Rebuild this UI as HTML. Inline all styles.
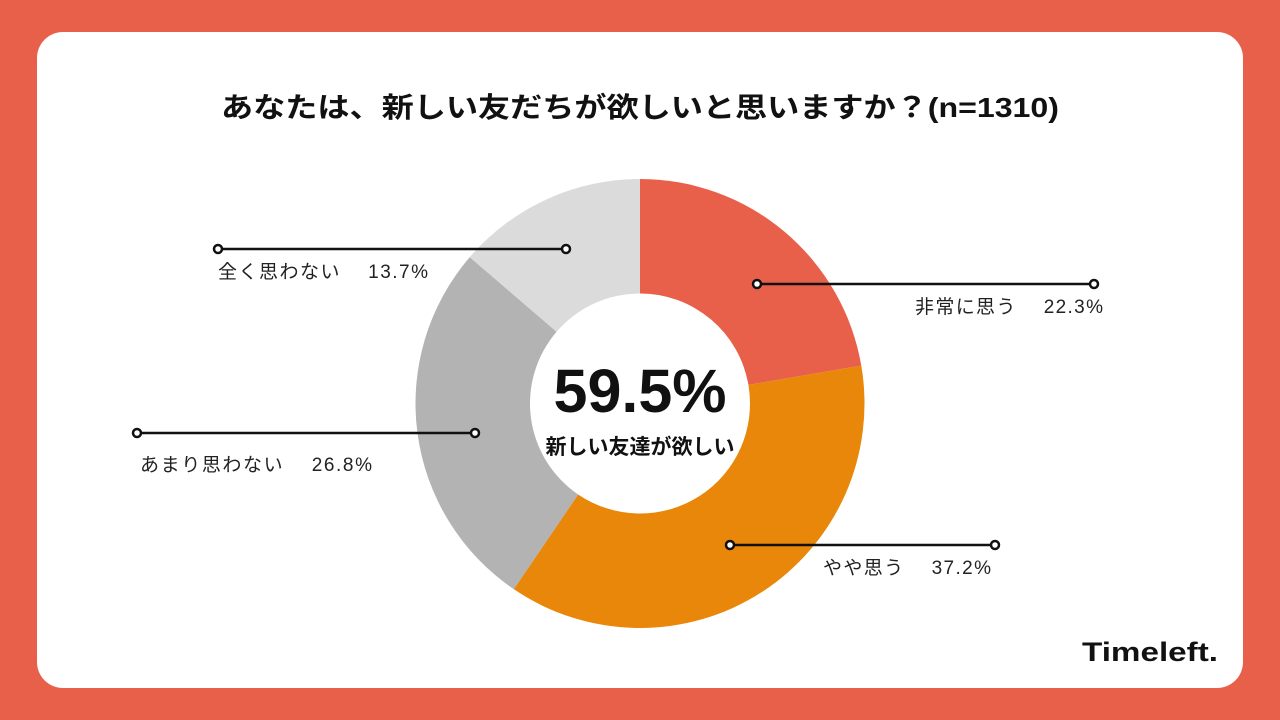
<!DOCTYPE html>
<html><head><meta charset="utf-8"><style>
body{margin:0;width:1280px;height:720px;background:#E8604A;overflow:hidden;font-family:"Liberation Sans","Noto Sans CJK JP",sans-serif}
.card{position:absolute;left:37px;top:32px;width:1206px;height:656px;background:#fff;border-radius:26px}
</style></head><body>
<div class="card"></div>
<svg width="1280" height="720" style="position:absolute;left:0;top:0" id="s" font-family="Liberation Sans, Noto Sans CJK JP, sans-serif">
<text x="640" y="117" text-anchor="middle" font-size="28" font-weight="bold" fill="#111" textLength="838" lengthAdjust="spacingAndGlyphs">あなたは、新しい友だちが欲しいと思いますか？(n=1310)</text>
<g id="pie"></g>
<text x="640" y="412" text-anchor="middle" font-size="61" font-weight="bold" fill="#111">59.5%</text>
<text x="640" y="454" text-anchor="middle" font-size="21" font-weight="bold" fill="#111">新しい友達が欲しい</text>
<g stroke="#111" stroke-width="2.5" fill="#fff">
<line x1="218" y1="249" x2="566" y2="249"/><circle cx="218" cy="249" r="4"/><circle cx="566" cy="249" r="4"/>
<line x1="757" y1="284" x2="1094" y2="284"/><circle cx="757" cy="284" r="4"/><circle cx="1094" cy="284" r="4"/>
<line x1="137" y1="433" x2="475" y2="433"/><circle cx="137" cy="433" r="4"/><circle cx="475" cy="433" r="4"/>
<line x1="730" y1="545" x2="995" y2="545"/><circle cx="730" cy="545" r="4"/><circle cx="995" cy="545" r="4"/>
</g>
<g font-size="19" fill="#222">
<text x="218" y="278" textLength="210" lengthAdjust="spacing">全く思わない　 13.7%</text>
<text x="915" y="313" textLength="188" lengthAdjust="spacing">非常に思う　 22.3%</text>
<text x="140" y="471" textLength="232" lengthAdjust="spacing">あまり思わない　 26.8%</text>
<text x="823" y="574" textLength="168" lengthAdjust="spacing">やや思う　 37.2%</text>
</g>
<text x="1082" y="661" font-size="27" font-weight="bold" fill="#111" textLength="136" lengthAdjust="spacingAndGlyphs">Timeleft.</text>
</svg>
<script>
var cx=640,cy=403.5,R=224.5,r=110;
var d=[[22.3,"#E8604A"],[37.2,"#E8870A"],[26.8,"#B3B3B3"],[13.7,"#DBDBDB"]];
var a=0,g=document.getElementById("pie"),h="";
function p(ang,rad){var t=ang/100*2*Math.PI;return [cx+rad*Math.sin(t),cy-rad*Math.cos(t)];}
d.forEach(function(s){var b=a+s[0],l=s[0]>50?1:0;
var A=p(a,R),B=p(b,R),C=p(b,r),D=p(a,r);
h+='<path fill="'+s[1]+'" d="M'+A+' A'+R+' '+R+' 0 '+l+' 1 '+B+' L'+C+' A'+r+' '+r+' 0 '+l+' 0 '+D+'Z"/>';a=b;});
g.innerHTML=h;
</script>
</body></html>
